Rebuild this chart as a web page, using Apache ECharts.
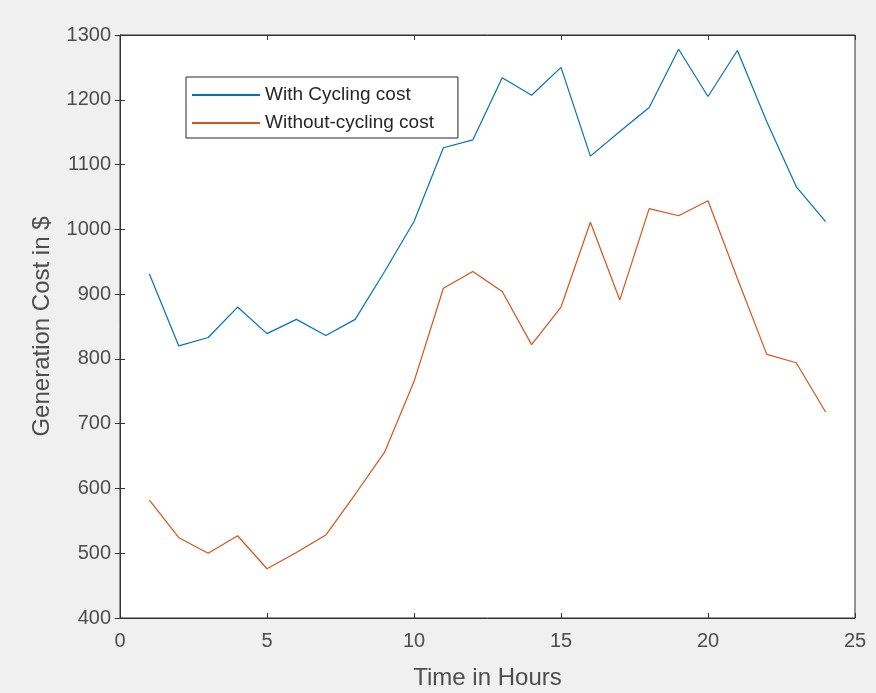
<!DOCTYPE html>
<html>
<head>
<meta charset="utf-8">
<script src="https://cdn.jsdelivr.net/npm/echarts@6/dist/echarts.min.js"></script>
<style>
html,body{margin:0;padding:0;background:#f0f0f0;}
#chart{width:876px;height:693px;}
</style>
</head>
<body>
<div id="chart"></div>
<script>
var hours = [1,2,3,4,5,6,7,8,9,10,11,12,13,14,15,16,17,18,19,20,21,22,23,24];
var withCycling = [931,820,833,880,839,861,836,861,935,1012,1126,1138,1234,1207,1250,1113,1151,1188,1278,1205,1276,1166,1066,1012];
var withoutCycling = [582,524,500,527,476,501,528,591,656,765,909,935,904,822,880,1011,891,1032,1021,1044,924,807,794,718];
var xTicks = [0,5,10,15,20,25];
var yTicks = [400,500,600,700,800,900,1000,1100,1200,1300];

function pairs(xs, ys){ return xs.map(function(x,i){ return [x, ys[i]]; }); }

var chart = echarts.init(document.getElementById('chart'), null, {renderer:'canvas'});
var axisColor = '#333333';
var labelColor = '#4d4d4d';
var fontFam = 'Liberation Sans, Arial, sans-serif';
chart.setOption({
  backgroundColor: '#f0f0f0',
  animation: false,
  grid: {left: 120, right: 21, top: 35, bottom: 75, outerBoundsMode: 'none', containLabel: false,
    show: true, backgroundColor: '#ffffff', borderColor: axisColor, borderWidth: 1},
  legend: {
    left: 186, top: 77, orient: 'vertical',
    backgroundColor: '#ffffff', borderColor: '#262626', borderWidth: 1,
    padding: [4, 24, 1, 6],
    icon: 'rect',
    itemWidth: 68, itemHeight: 2, itemGap: 0,
    textStyle: {fontSize: 19, lineHeight: 28, color: '#262626', fontFamily: fontFam},
    data: ['With Cycling cost', 'Without-cycling cost']
  },
  xAxis: [{
    type: 'value', min: 0, max: 25, interval: 5,
    name: 'Time in Hours', nameLocation: 'middle', nameGap: 48,
    nameTextStyle: {fontSize: 24, color: labelColor, fontFamily: fontFam},
    axisLine: {show: true, lineStyle: {color: axisColor}},
    axisTick: {show: true, inside: true, length: 5, lineStyle: {color: axisColor}},
    axisLabel: {fontSize: 20, color: labelColor, fontFamily: fontFam, margin: 13},
    splitLine: {show: false}
  }, {
    type: 'value', min: 0, max: 25, interval: 5, position: 'top',
    axisLine: {show: true, lineStyle: {color: axisColor}},
    axisTick: {show: true, inside: true, length: 5, lineStyle: {color: axisColor}},
    axisLabel: {show: false}, splitLine: {show: false}
  }],
  yAxis: [{
    type: 'value', min: 400, max: 1300, interval: 100,
    name: 'Generation Cost in $', nameLocation: 'middle', nameGap: 66, nameRotate: 90,
    nameTextStyle: {fontSize: 24, color: labelColor, fontFamily: fontFam},
    axisLine: {show: true, lineStyle: {color: axisColor}},
    axisTick: {show: true, inside: true, length: 5, lineStyle: {color: axisColor}},
    axisLabel: {fontSize: 20, color: labelColor, fontFamily: fontFam, margin: 9,
      formatter: function(v){ return String(v); }},
    splitLine: {show: false}
  }, {
    type: 'value', min: 400, max: 1300, interval: 100, position: 'right',
    axisLine: {show: true, lineStyle: {color: axisColor}},
    axisTick: {show: true, inside: true, length: 5, lineStyle: {color: axisColor}},
    axisLabel: {show: false}, splitLine: {show: false}
  }],
  series: [{
    name: 'With Cycling cost', type: 'line', symbol: 'none',
    data: pairs(hours, withCycling),
    lineStyle: {color: '#0072BD', width: 1.2}, itemStyle: {color: '#0072BD'}
  }, {
    name: 'Without-cycling cost', type: 'line', symbol: 'none',
    data: pairs(hours, withoutCycling),
    lineStyle: {color: '#D95319', width: 1.2}, itemStyle: {color: '#D95319'}
  }]
});
</script>
</body>
</html>
